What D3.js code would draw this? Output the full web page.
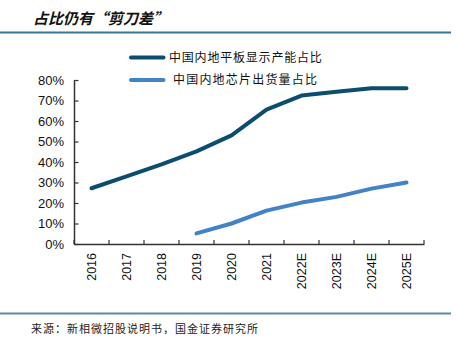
<!DOCTYPE html>
<html><head><meta charset="utf-8">
<script src="https://cdn.jsdelivr.net/npm/d3@7/dist/d3.min.js"></script>
<style>
html,body{margin:0;padding:0;background:#fff;}
svg{display:block;}
</style></head>
<body>
<svg id="c" width="456" height="346"></svg>
<script>
const categories = ["2016","2017","2018","2019","2020","2021","2022E","2023E","2024E","2025E"];
const panelShare = [27.2, 33, 38.8, 45.2, 53, 65.5, 72.4, 74.3, 76, 76];
const chipShare  = [null, null, null, 5.2, 10, 16.3, 20.2, 23, 27, 30];
const yTicks = [0,10,20,30,40,50,60,70,80];
const seriesNames = ["中国内地平板显示产能占比","中国内地芯片出货量占比"];
const colors = ["#0b4d6e","#4282c6"];
const titleText = "占比仍有“剪刀差”";
const sourceText = "来源：新相微招股说明书，国金证券研究所";

(function(){
const svg = d3.select("#c");
const pL = 74, pR = 424, pT = 80, pB = 244;

// title and rules
svg.append("text").attr("x",33).attr("y",24)
  .attr("font-family","'Noto Sans CJK SC'").attr("font-weight","bold")
  .attr("font-size",15)
  .attr("font-style","italic").attr("fill","#111").text(titleText);
svg.append("line").attr("x1",0).attr("x2",451).attr("y1",32.5).attr("y2",32.5)
  .attr("stroke","#3a7399").attr("stroke-width",2);
svg.append("line").attr("x1",0).attr("x2",451).attr("y1",313.5).attr("y2",313.5)
  .attr("stroke","#5a8aa5").attr("stroke-width",2);
svg.append("text").attr("x",31).attr("y",333)
  .attr("font-family","'Noto Sans CJK SC'").attr("font-size",11)
  .attr("letter-spacing",1).attr("fill","#222").text(sourceText);

const x = d3.scaleBand().domain(categories).range([pL,pR]);
const y = d3.scaleLinear().domain([0,80]).range([pB,pT]);

// y axis
const ya = svg.append("g").attr("transform",`translate(${pL},0)`)
  .call(d3.axisLeft(y).tickValues(yTicks).tickFormat(d=>d+"%").tickSizeInner(-4.5).tickSizeOuter(0).tickPadding(10));
ya.select(".domain").attr("stroke","#333").attr("stroke-width",1.5);
ya.selectAll(".tick line").attr("stroke","#333").attr("stroke-width",1.2);
ya.selectAll("text").attr("font-family","'Liberation Sans',Arial").attr("font-size",13).attr("fill","#111");

// x axis
const xa = svg.append("g").attr("transform",`translate(0,${pB})`)
  .call(d3.axisBottom(x).tickSize(0).tickPadding(0));
xa.select(".domain").attr("stroke","#333").attr("stroke-width",1.5);
xa.selectAll(".tick text")
  .attr("font-family","'Liberation Sans',Arial").attr("font-size",12.5).attr("fill","#111")
  .attr("transform","rotate(-90)").attr("text-anchor","end")
  .attr("x",-9).attr("y",0).attr("dy","0.35em").attr("dx",0);
const bounds = categories.map(c=>x(c)).concat([pR]);
svg.append("g").selectAll("line").data(bounds).join("line")
  .attr("x1",d=>d).attr("x2",d=>d).attr("y1",pB).attr("y2",pB-4)
  .attr("stroke","#333").attr("stroke-width",1.2);

// lines
const line = d3.line().defined(d=>d.v!=null)
  .x(d=>x(d.c)+x.bandwidth()/2).y(d=>y(d.v));
[panelShare, chipShare].forEach((arr,i)=>{
  svg.append("path").datum(categories.map((c,j)=>({c,v:arr[j]})))
    .attr("d",line).attr("fill","none").attr("stroke",colors[i])
    .attr("stroke-width",4).attr("stroke-linecap","round").attr("stroke-linejoin","round");
});

// legend
const lg = [{y:57.5, tx:169, ls:0.8},{y:80, tx:173, ls:1.2}];
seriesNames.forEach((n,i)=>{
  svg.append("line").attr("x1",131).attr("x2",163.5).attr("y1",lg[i].y).attr("y2",lg[i].y)
    .attr("stroke",colors[i]).attr("stroke-width",4).attr("stroke-linecap","round");
  svg.append("text").attr("x",lg[i].tx).attr("y",lg[i].y).attr("dy","0.36em")
    .attr("font-family","'Noto Sans CJK SC'").attr("font-size",12)
    .attr("letter-spacing",lg[i].ls).attr("fill","#111").text(n);
});
})();
</script>
</body></html>
